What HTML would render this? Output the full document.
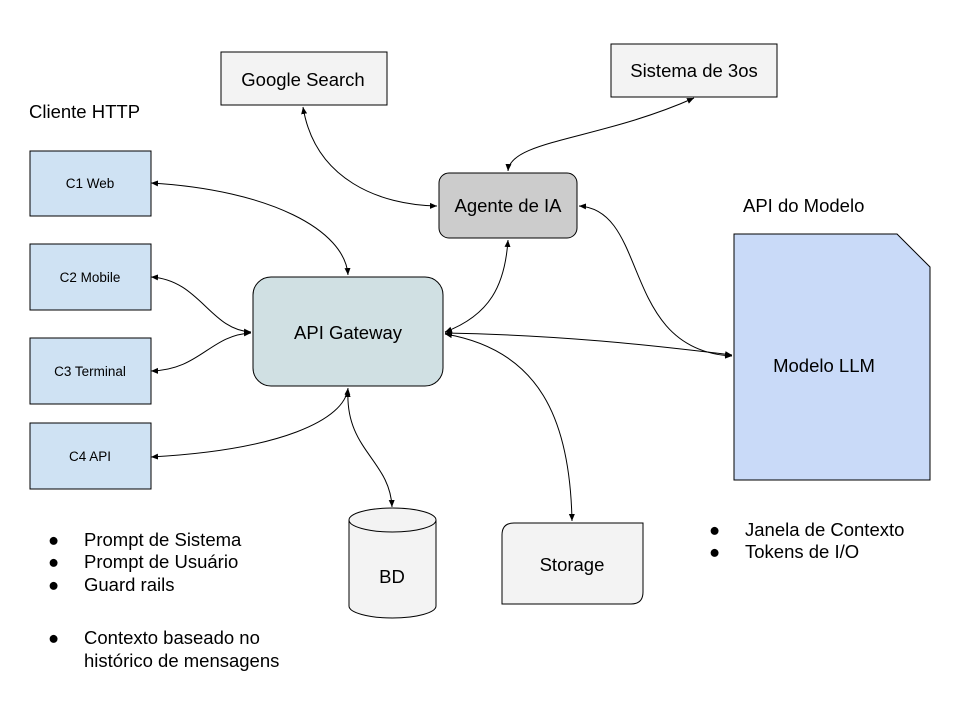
<!DOCTYPE html>
<html><head><meta charset="utf-8"><style>body{margin:0;background:#fff}svg{display:block}text{font-family:"Liberation Sans",Arial,sans-serif;fill:#000}</style></head><body>
<svg width="960" height="720" viewBox="0 0 960 720" xmlns="http://www.w3.org/2000/svg">
<defs><marker id="a" markerWidth="8" markerHeight="8" refX="7" refY="4" orient="auto-start-reverse" markerUnits="userSpaceOnUse"><path d="M0,1 L7,4 L0,7 z" fill="#000"/></marker></defs>
<g fill="none" stroke="#000" stroke-width="1">
<rect x="221" y="52" width="166" height="53" fill="#f3f3f3"/>
<rect x="611" y="44" width="166" height="53" fill="#f3f3f3"/>
<rect x="30" y="151" width="121" height="65" fill="#cfe2f3"/>
<rect x="30" y="244" width="121" height="66" fill="#cfe2f3"/>
<rect x="30" y="338" width="121" height="66" fill="#cfe2f3"/>
<rect x="30" y="423" width="121" height="66" fill="#cfe2f3"/>
<rect x="439" y="173" width="138" height="65" rx="10" fill="#cccccc"/>
<rect x="253" y="277" width="190" height="109" rx="18" fill="#d0e0e3"/>
<path d="M734,234 H897 L930,267 V480 H734 Z" fill="#c9daf8"/>
<path d="M349,520 V606 A43.5,12 0 0 0 436,606 V520 A43.5,12 0 0 0 349,520 A43.5,12 0 0 0 436,520" fill="#f3f3f3"/>
<path d="M514,523 H643 V592 Q643,604 631,604 H502 V535 Q502,523 514,523 Z" fill="#f3f3f3"/>
</g>
<g fill="none" stroke="#000" stroke-width="1" marker-start="url(#a)" marker-end="url(#a)">
<path d="M303,107 C315,180 380,205 437,206"/>
<path d="M508,171 C510,140 600,140 694,98"/>
<path d="M151,183 C270,190 345,230 348,275"/>
<path d="M151,277 C200,280 210,330 251,332"/>
<path d="M151,371 C200,370 210,335 251,333"/>
<path d="M151,457 C280,450 345,420 348,388"/>
<path d="M445,332 C490,315 505,285 508,240"/>
<path d="M579,206 C650,210 620,350 732,356"/>
<path d="M445,333 C560,335 650,345 732,355"/>
<path d="M445,334 C540,350 570,420 572,521"/>
<path d="M348,390 C345,450 390,460 392,507"/>
</g>
<g font-size="18.5">
<text x="303" y="86" text-anchor="middle">Google Search</text>
<text x="694" y="77" text-anchor="middle">Sistema de 3os</text>
<text x="29" y="118">Cliente HTTP</text>
<text x="508" y="212" text-anchor="middle">Agente de IA</text>
<text x="348" y="339" text-anchor="middle">API Gateway</text>
<text x="743" y="212">API do Modelo</text>
<text x="824" y="372" text-anchor="middle">Modelo LLM</text>
<text x="392" y="583" text-anchor="middle">BD</text>
<text x="572" y="571" text-anchor="middle">Storage</text>
<text x="48" y="546">●</text><text x="84" y="546">Prompt de Sistema</text>
<text x="48" y="568">●</text><text x="84" y="568">Prompt de Usuário</text>
<text x="48" y="591">●</text><text x="84" y="591">Guard rails</text>
<text x="48" y="644">●</text><text x="84" y="644">Contexto baseado no</text>
<text x="84" y="667">histórico de mensagens</text>
<text x="709" y="536">●</text><text x="745" y="536">Janela de Contexto</text>
<text x="709" y="558">●</text><text x="745" y="558">Tokens de I/O</text>
</g>
<g font-size="13.5">
<text x="90" y="188" text-anchor="middle">C1 Web</text>
<text x="90" y="282" text-anchor="middle">C2 Mobile</text>
<text x="90" y="376" text-anchor="middle">C3 Terminal</text>
<text x="90" y="461" text-anchor="middle">C4 API</text>
</g>
</svg>
</body></html>
